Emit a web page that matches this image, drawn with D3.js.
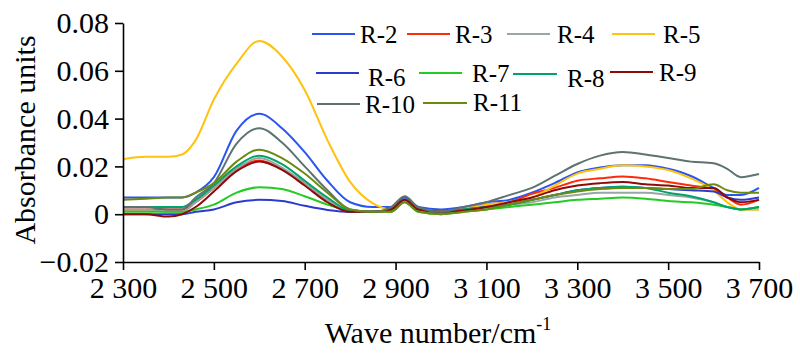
<!DOCTYPE html>
<html>
<head>
<meta charset="utf-8">
<script src="https://cdn.jsdelivr.net/npm/d3@7"></script>
<style>
  body { margin: 0; background: #fff; }
  svg text { font-family: "Liberation Serif", "Times New Roman", serif; fill: #000; }
</style>
</head>
<body>
<svg id="chart" width="800" height="353"></svg>
<script>
// wave numbers (cm-1) where the curves are read
var waves = [2300, 2350, 2400, 2430, 2460, 2500, 2550, 2600, 2650, 2700, 2750, 2800, 2850, 2890, 2920, 2950,
  3000, 3050, 3100, 3150, 3200, 3250, 3300, 3350, 3400, 3450, 3500, 3550, 3600, 3630, 3660, 3700];

var seriesNames = ["R-2", "R-3", "R-4", "R-5", "R-6", "R-7", "R-8", "R-9", "R-10", "R-11"];
var seriesColors = ["#2a55f0", "#ff2a0a", "#97a6a6", "#ffc20e", "#2a3ccc", "#22cc22", "#00a46a", "#8e0a0a", "#5f7272", "#6b8a10"];

var r2 = [.007, .007, .007, .007, .009, .0155, .035, .042, .036, .026, .014, .005, .003, .003, .007, .003,
  .002, .003, .005, .006, .009, .013, .0175, .0195, .0205, .0205, .019, .016, .011, .008, .008, .011];
var r3 = [.002, .002, .002, .002, .005, .011, .019, .0225, .019, .013, .006, .001, .001, .002, .006, .002,
  .001, .002, .004, .005, .0085, .011, .014, .015, .0158, .015, .0135, .012, .0105, .007, .004, .006];
var r4 = [.002, .002, .001, .001, .005, .011, .019, .0235, .0195, .013, .006, .001, .001, .002, .006, .002,
  .001, .002, .003, .004, .005, .007, .008, .009, .009, .009, .008, .007, .005, .003, .002, .002];
var r5 = [.023, .024, .024, .025, .031, .048, .063, .0725, .066, .052, .031, .0135, .0045, .002, .006, .002,
  .001, .002, .004, .005, .007, .012, .017, .019, .0205, .020, .0185, .015, .010, .005, .002, .002];
var r6 = [0, 0, 0, 0, .001, .002, .005, .006, .0055, .0035, .0018, .001, .001, .002, .006, .002,
  .001, .002, .003, .004, .006, .008, .010, .011, .0115, .011, .0105, .010, .0095, .007, .006, .007];
var r7 = [.001, .001, .001, .001, .002, .004, .009, .0113, .0105, .0075, .004, .0015, .001, .001, .005, .001,
  0, .001, .002, .003, .004, .005, .006, .0065, .007, .0065, .0055, .005, .004, .003, .002, .003];
var r8 = [.003, .003, .003, .003, .006, .012, .020, .0245, .021, .014, .007, .0015, .001, .002, .006, .002,
  .001, .002, .003, .004, .006, .008, .010, .011, .0115, .011, .009, .0075, .005, .003, .002, .003];
var r9 = [0, 0, -.001, 0, .003, .0095, .018, .022, .0185, .012, .005, .001, .001, .002, .006, .002,
  .001, .0015, .003, .005, .007, .010, .012, .013, .0135, .0125, .012, .011, .011, .007, .005, .006];
var r10 = [.003, .003, .002, .002, .007, .013, .0295, .036, .030, .020, .010, .002, .001, .003, .0075, .003,
  .001, .003, .005, .008, .011, .016, .021, .0245, .026, .025, .0235, .022, .0213, .019, .0155, .0168];
var r11 = [.006, .0065, .007, .007, .009, .013, .022, .027, .0235, .017, .009, .002, .001, .001, .005, .001,
  0, .001, .002, .004, .006, .008, .0095, .0105, .011, .011, .0105, .0105, .0125, .010, .009, .009];

var seriesValues = [r2, r3, r4, r5, r6, r7, r8, r9, r10, r11];

var xTicks = [2300, 2500, 2700, 2900, 3100, 3300, 3500, 3700];
var yTicks = [-0.02, 0, 0.02, 0.04, 0.06, 0.08];

var svg = d3.select("#chart");

var x = d3.scaleLinear().domain([2300, 3700]).range([123, 759]);
var y = d3.scaleLinear().domain([-0.02, 0.08]).range([262, 23]);

var fmtX = function(d) { var s = String(d); return s.slice(0, 1) + " " + s.slice(1); };
var fmtY = function(d) { return d === 0 ? "0" : d3.format(".2f")(d); };

// curves
var line = d3.line()
    .x(function(d) { return x(d[0]); })
    .y(function(d) { return y(d[1]); })
    .curve(d3.curveMonotoneX);

svg.append("g").selectAll("path")
    .data(seriesValues)
    .enter().append("path")
    .attr("d", function(v) { return line(waves.map(function(w, i) { return [w, v[i]]; })); })
    .attr("fill", "none")
    .attr("stroke", function(v, i) { return seriesColors[i]; })
    .attr("stroke-width", 2);

// axes
var xAxis = svg.append("g")
    .attr("transform", "translate(0," + y(-0.02) + ")")
    .call(d3.axisBottom(x).tickValues(xTicks).tickFormat(fmtX).tickSize(8).tickSizeOuter(0).tickPadding(6));
var yAxis = svg.append("g")
    .attr("transform", "translate(" + x(2300) + ",0)")
    .call(d3.axisLeft(y).tickValues(yTicks).tickFormat(fmtY).tickSize(8).tickSizeOuter(0).tickPadding(6));

[xAxis, yAxis].forEach(function(a) {
  a.attr("font-family", null).attr("font-size", null);
  a.select(".domain").attr("stroke", "#000").attr("stroke-width", 1.6);
  a.selectAll(".tick line").attr("stroke", "#000").attr("stroke-width", 1.6);
  a.selectAll(".tick text")
      .style("font-family", "'Liberation Serif', 'Times New Roman', serif")
      .style("font-size", "30px")
      .attr("fill", "#000");
});
xAxis.selectAll(".tick text").attr("dy", "0.74em");

// axis titles
svg.append("text")
    .attr("transform", "translate(35,140) rotate(-90)")
    .attr("text-anchor", "middle")
    .style("font-size", "30px")
    .text("Absorbance units");

var xt = svg.append("text")
    .attr("x", 438).attr("y", 343)
    .attr("text-anchor", "middle")
    .style("font-size", "30px");
xt.append("tspan").text("Wave number/cm");
xt.append("tspan").attr("dy", -13).style("font-size", "18px").text("-1");

// legend
var legendItems = [
  { name: "R-2", x1: 312, x2: 355, tx: 360, y: 34, ty: 43 },
  { name: "R-3", x1: 407, x2: 450, tx: 455, y: 34, ty: 43 },
  { name: "R-4", x1: 507, x2: 550, tx: 557, y: 34, ty: 43 },
  { name: "R-5", x1: 612, x2: 655, tx: 663, y: 34, ty: 43 },
  { name: "R-6", x1: 316, x2: 359, tx: 368, y: 73, ty: 86 },
  { name: "R-7", x1: 419, x2: 462, tx: 472, y: 73, ty: 82 },
  { name: "R-8", x1: 513, x2: 557, tx: 567, y: 74, ty: 87 },
  { name: "R-9", x1: 610, x2: 653, tx: 659, y: 72, ty: 81 },
  { name: "R-10", x1: 317, x2: 360, tx: 365, y: 104, ty: 113 },
  { name: "R-11", x1: 423, x2: 467, tx: 473, y: 103, ty: 111 }
];

var lg = svg.append("g").selectAll("g")
    .data(legendItems)
    .enter().append("g");
lg.append("line")
    .attr("x1", function(d) { return d.x1; })
    .attr("x2", function(d) { return d.x2; })
    .attr("y1", function(d) { return d.y; })
    .attr("y2", function(d) { return d.y; })
    .attr("stroke", function(d) { return seriesColors[seriesNames.indexOf(d.name)]; })
    .attr("stroke-width", 2);
lg.append("text")
    .attr("x", function(d) { return d.tx; })
    .attr("y", function(d) { return d.ty; })
    .style("font-size", "25px")
    .text(function(d) { return d.name; });
</script>
</body>
</html>
